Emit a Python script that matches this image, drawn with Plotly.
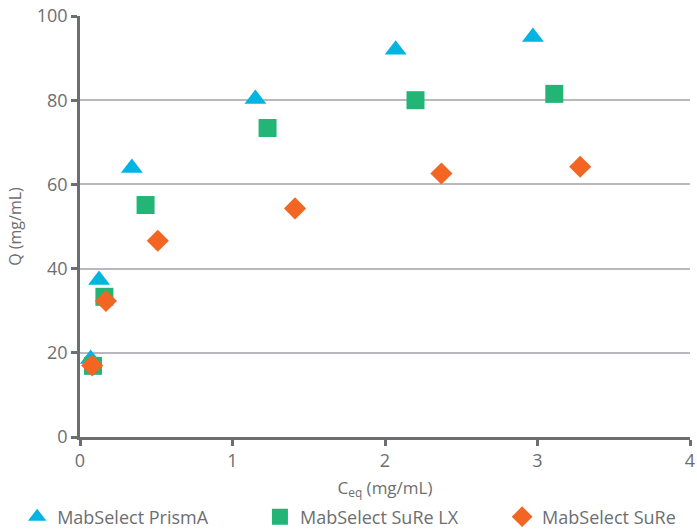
import plotly.graph_objects as go

prisma_x = [0.07, 0.125, 0.34, 1.15, 2.07, 2.97]
prisma_q = [18.5, 37.3, 63.9, 80.3, 92.0, 95.0]

surelx_x = [0.085, 0.16, 0.43, 1.23, 2.20, 3.11]
surelx_q = [16.9, 33.3, 55.1, 73.4, 80.0, 81.5]

sure_x = [0.08, 0.17, 0.51, 1.41, 2.37, 3.28]
sure_q = [17.0, 32.3, 46.6, 54.3, 62.6, 64.2]

series_names = ["MabSelect PrismA", "MabSelect SuRe LX", "MabSelect SuRe"]

x_ticks = [0, 1, 2, 3, 4]
y_ticks = [0, 20, 40, 60, 80, 100]

FONT = "Open Sans"
TXT = "#6d6e71"

fig = go.Figure()
fig.add_trace(go.Scatter(x=prisma_x, y=prisma_q, mode="markers", name=series_names[0], legend="legend",
                         marker=dict(symbol="triangle-up", size=19, color="#00b5e2", line=dict(width=0))))
fig.add_trace(go.Scatter(x=surelx_x, y=surelx_q, mode="markers", name=series_names[1], legend="legend2",
                         marker=dict(symbol="square", size=18, color="#23b576", line=dict(width=0))))
fig.add_trace(go.Scatter(x=sure_x, y=sure_q, mode="markers", name=series_names[2], legend="legend3",
                         marker=dict(symbol="diamond", size=17, color="#f26522", line=dict(width=0))))

leg_common = dict(orientation="h", xanchor="left", y=-0.19, yanchor="middle",
                  font=dict(family=FONT, size=18, color=TXT),
                  bgcolor="rgba(0,0,0,0)")

fig.update_layout(
    width=697, height=530,
    margin=dict(l=80, r=7, t=16, b=93, autoexpand=False),
    paper_bgcolor="white", plot_bgcolor="white",
    font=dict(family=FONT, color=TXT, size=17),
    showlegend=True,
    legend=dict(x=-0.103, **leg_common),
    legend2=dict(x=0.295, **leg_common),
    legend3=dict(x=0.692, **leg_common),
    xaxis=dict(range=[0, 4], tickvals=x_ticks, ticktext=[str(v) for v in x_ticks],
               showgrid=False, zeroline=False, showline=True, linecolor="#6d6e71", linewidth=2.5,
               ticks="outside", ticklen=6, tickwidth=2.5, tickcolor="#6d6e71",
               tickfont=dict(size=18, color=TXT), automargin=False,
               title=dict(text="C<sub>eq</sub> (mg/mL)", font=dict(size=17, color=TXT), standoff=11)),
    yaxis=dict(range=[0, 100], tickvals=y_ticks, ticktext=[str(v) for v in y_ticks],
               showgrid=True, gridcolor="#b9b9bd", gridwidth=2, zeroline=False,
               showline=True, linecolor="#6d6e71", linewidth=2.5,
               ticks="outside", ticklen=6, tickwidth=2.5, tickcolor="#6d6e71",
               tickfont=dict(size=18, color=TXT), automargin=False,
               title=dict(text="Q (mg/mL)", font=dict(size=16, color=TXT), standoff=12)),
)

fig.write_html("out.html", config={"displayModeBar": False},
               post_script="document.body.style.margin='0';document.body.style.overflow='hidden';")
